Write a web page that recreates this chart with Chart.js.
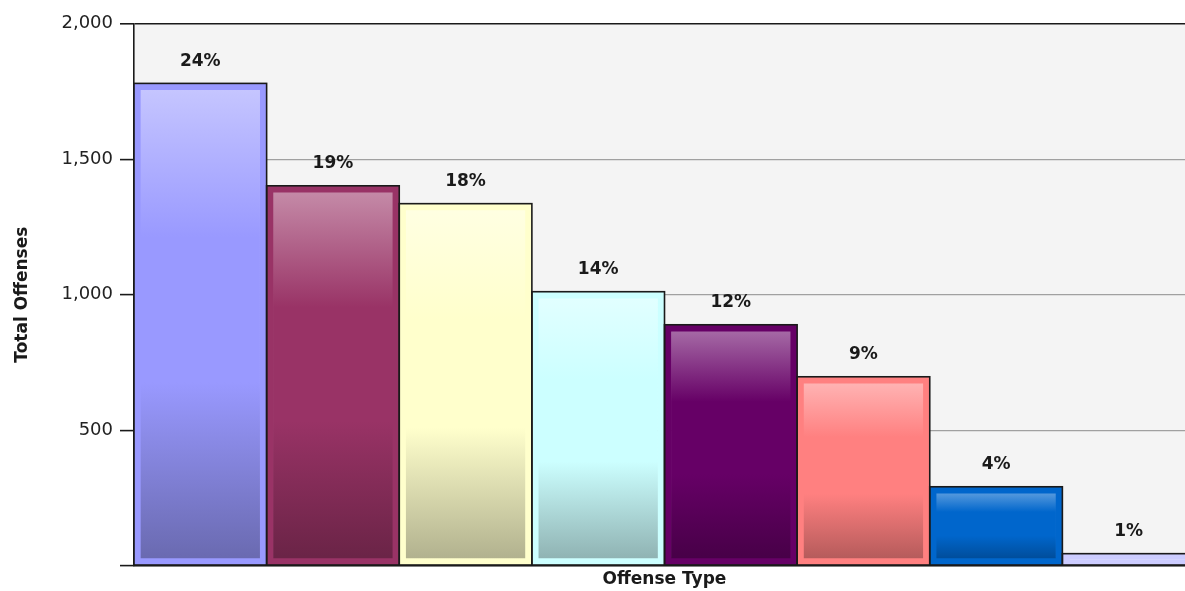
<!DOCTYPE html>
<html>
<head>
<meta charset="utf-8">
<script src="https://cdn.jsdelivr.net/npm/chart.js@4.4.0/dist/chart.umd.min.js"></script>
<style>
  html, body { margin: 0; padding: 0; background: #fff; overflow: hidden; }
  #wrap { position: relative; width: 1196px; height: 585px; margin-top: 6px; }
</style>
</head>
<body>
<div id="wrap"><canvas id="offenseChart"></canvas></div>
<script>
// values
const offenseTypes = ['Type 1', 'Type 2', 'Type 3', 'Type 4', 'Type 5', 'Type 6', 'Type 7', 'Type 8'];
const totalOffenses = [1780, 1402, 1336, 1011, 889, 697, 291, 44];
const percentLabels = ['24%', '19%', '18%', '14%', '12%', '9%', '4%', '1%'];
const yTicks = [0, 500, 1000, 1500, 2000];

// old excel palette
const baseColors = ['#9999ff', '#993366', '#ffffcc', '#ccffff', '#660066', '#ff8080', '#0066cc', '#ccccff'];

const hexToRgb = (hex) => {
    const n = parseInt(hex.slice(1), 16);
    return [(n >> 16) & 255, (n >> 8) & 255, n & 255];
};
const lighten = (hex, t) => {
    const c = hexToRgb(hex).map(v => Math.round(v + (255 - v) * t));
    return `rgb(${c[0]},${c[1]},${c[2]})`;
};
const darken = (hex, t) => {
    const c = hexToRgb(hex).map(v => Math.round(v * t));
    return `rgb(${c[0]},${c[1]},${c[2]})`;
};

const barFill = (ctx) => {
    const chart = ctx.chart;
    const color = baseColors[ctx.dataIndex];
    const y = chart.scales.y;
    if (!chart.chartArea || !y) return color;
    const top = y.getPixelForValue(ctx.raw);
    const bottom = y.getPixelForValue(0);
    if (!isFinite(top) || bottom - top < 2) return color;
    const g = chart.ctx.createLinearGradient(0, top, 0, bottom);
    g.addColorStop(0, lighten(color, 0.45));
    g.addColorStop(0.32, color);
    g.addColorStop(0.62, color);
    g.addColorStop(1, darken(color, 0.68));
    return g;
};

const plotBackground = {
    id: 'plotBackground',
    beforeDraw(chart) {
        const { ctx, chartArea: a } = chart;
        ctx.save();
        ctx.fillStyle = '#f4f4f4';
        ctx.fillRect(a.left, a.top, a.right - a.left, a.bottom - a.top);
        ctx.restore();
    }
};

const barOutlines = {
    id: 'barOutlines',
    afterDatasetsDraw(chart) {
        const ctx = chart.ctx;
        const meta = chart.getDatasetMeta(0);
        ctx.save();
        ctx.strokeStyle = '#1a1a1a';
        ctx.lineWidth = 1.6;
        meta.data.forEach(bar => {
            const p = bar.getProps(['x', 'y', 'base', 'width'], true);
            ctx.strokeRect(p.x - p.width / 2, p.y, p.width, p.base - p.y);
        });
        ctx.font = 'bold 17px "DejaVu Sans"';
        ctx.fillStyle = '#1a1a1a';
        ctx.textAlign = 'center';
        ctx.textBaseline = 'middle';
        meta.data.forEach((bar, i) => {
            const p = bar.getProps(['x', 'y'], true);
            ctx.fillText(percentLabels[i], p.x, p.y - 22);
        });
        ctx.restore();
    }
};

new Chart(document.getElementById('offenseChart'), {
    type: 'bar',
    data: {
        labels: offenseTypes,
        datasets: [{
            data: totalOffenses,
            backgroundColor: barFill,
            borderColor: baseColors,
            borderWidth: 7,
            borderSkipped: false,
            categoryPercentage: 1,
            barPercentage: 1
        }]
    },
    options: {
        responsive: true,
        maintainAspectRatio: false,
        animation: false,
        layout: { padding: { top: 12, left: 8, right: 1, bottom: 1 } },
        plugins: {
            legend: { display: false },
            tooltip: { enabled: false }
        },
        scales: {
            x: {
                grid: { display: false, drawTicks: false },
                ticks: { display: false },
                border: { display: true, color: '#1a1a1a', width: 1.6 },
                title: {
                    display: true,
                    text: 'Offense Type',
                    color: '#1a1a1a',
                    font: { family: 'DejaVu Sans', size: 17, weight: 'bold' },
                    padding: { top: 4, bottom: 0 }
                }
            },
            y: {
                min: 0,
                max: 2000,
                afterBuildTicks: (scale) => { scale.ticks = yTicks.map(v => ({ value: v })); },
                afterFit: (scale) => { scale.width = 126; },
                ticks: {
                    color: '#222',
                    padding: 7,
                    font: { family: 'DejaVu Sans', size: 18 },
                    callback: (v) => v === 0 ? '' : v.toLocaleString('en-US')
                },
                grid: {
                    color: (c) => c.tick && c.tick.value === 2000 ? '#1a1a1a' : '#a0a0a0',
                    lineWidth: (c) => c.tick && c.tick.value === 2000 ? 1.6 : 1.2,
                    tickColor: '#1a1a1a',
                    tickLength: 14,
                    tickWidth: 1.6
                },
                border: { display: true, color: '#1a1a1a', width: 1.6 },
                title: {
                    display: true,
                    text: 'Total Offenses',
                    color: '#1a1a1a',
                    font: { family: 'DejaVu Sans', size: 17, weight: 'bold' },
                    padding: { top: 4, bottom: 4 }
                }
            }
        }
    },
    plugins: [plotBackground, barOutlines]
});
</script>
</body>
</html>
